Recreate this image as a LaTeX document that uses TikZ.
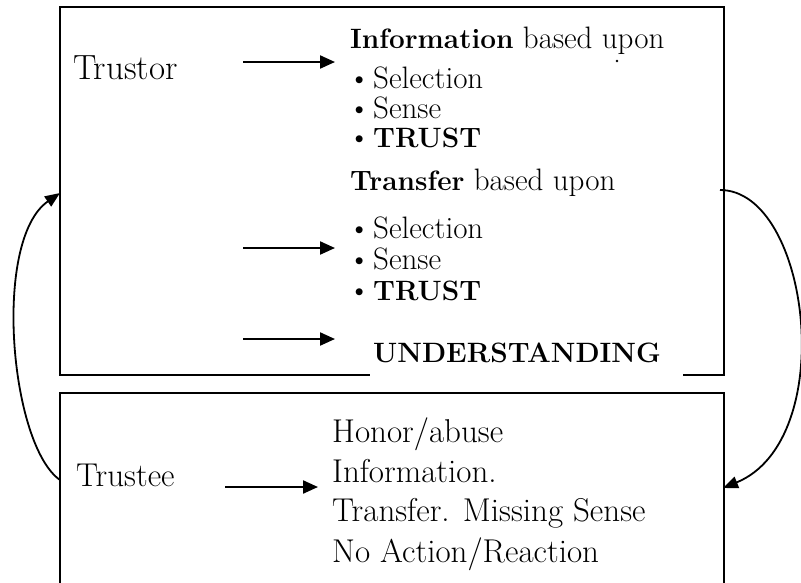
\documentclass[tikz,border=0pt]{standalone}
\usepackage{tikz}
\usetikzlibrary{arrows.meta}
\newcommand{\strong}[1]{{\fontsize{28}{30}\selectfont\bfseries #1}}

\begin{document}
\begin{tikzpicture}[x=1pt, y=-1pt,
    boxline/.style={line width=2pt},
    flow/.style={line width=2.2pt, -{Triangle[length=15pt, width=13pt]}},
    backarc/.style={line width=1.8pt, -{Triangle[length=15pt, width=12pt]}},
    actor/.style={anchor=base west, inner sep=0pt, font=\fontsize{35}{38}\selectfont},
    listtext/.style={anchor=base west, inner sep=0pt, font=\fontsize{31}{33}\selectfont},
    reply/.style={anchor=base west, inner sep=0pt, font=\fontsize{33}{36}\selectfont}]
    \useasboundingbox (0,0) rectangle (801,582);
    \clip (0,0) rectangle (801,582);
    % Boxes
    \draw[boxline] (60,7) rectangle (724,375);
    \draw[boxline] (60,600) -- (60,393) -- (724,393) -- (724,600);
    % Trustor side
    \node[actor] (trustor) at (73,79) {Trustor};
    \node[listtext] (info) at (350,48) {\strong{Information} based upon};
    \node[listtext] (sel1) at (348,88) {\makebox[25pt][l]{\textbullet}Selection};
    \node[listtext] (sense1) at (348,118) {\makebox[25pt][l]{\textbullet}Sense};
    \node[listtext] (trust1) at (348,147) {\makebox[25pt][l]{\textbullet}\strong{TRUST}};
    \node[listtext] (transfer) at (350,190) {\strong{Transfer} based upon};
    \node[listtext] (sel2) at (348,238) {\makebox[25pt][l]{\textbullet}Selection};
    \node[listtext] (sense2) at (348,269) {\makebox[25pt][l]{\textbullet}Sense};
    \node[listtext] (trust2) at (348,300) {\makebox[25pt][l]{\textbullet}\strong{TRUST}};
    \node[listtext, fill=white, inner xsep=3pt, text width=307pt, text depth=16pt, align=left]
        (under) at (370,362) {\strong{UNDERSTANDING}};
    \fill (617,61) circle (1.3);
    % Trustee side
    \node[reply] (trustee) at (76,486) {Trustee};
    \node[reply] (honor) at (332,442) {Honor/abuse};
    \node[reply] (infodot) at (332,482) {Information.};
    \node[reply] (missing) at (332,521) {Transfer. Missing Sense};
    \node[reply] (noaction) at (332,562) {No Action/Reaction};
    % Arrow ends
    \coordinate (a1) at (243,62);  \coordinate (b1) at (335,62);
    \coordinate (a2) at (243,248); \coordinate (b2) at (335,248);
    \coordinate (a3) at (243,339); \coordinate (b3) at (335,339);
    \coordinate (a4) at (225,487); \coordinate (b4) at (318,487);
    \coordinate (trusteeout) at (60,480);
    \coordinate (trustorin) at (60,193);
    \coordinate (trustorout) at (720,190);
    \coordinate (trusteein) at (723,488);
    % Arrows
    \draw[flow] (a1) -- (b1);
    \draw[flow] (a2) -- (b2);
    \draw[flow] (a3) -- (b3);
    \draw[flow] (a4) -- (b4);
    \draw[backarc] (trusteeout) .. controls (10,445) and (-8,240) .. (trustorin);
    \draw[backarc] (trustorout) .. controls (810,190) and (840,440) .. (trusteein);
\end{tikzpicture}
\end{document}
